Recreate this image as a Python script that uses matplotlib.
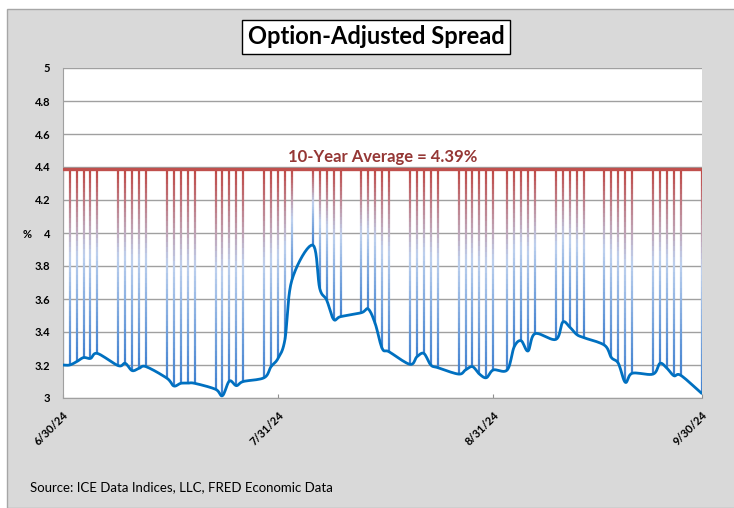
import numpy as np
import pandas as pd
import matplotlib
matplotlib.use("Agg")
import matplotlib.pyplot as plt
import matplotlib.dates as mdates
from matplotlib.collections import LineCollection
from matplotlib.colors import LinearSegmentedColormap
from matplotlib.patches import Rectangle

plt.rcParams["font.family"] = ["Lato", "DejaVu Sans"]

# data
dates = [
    "2024-06-30", "2024-07-01", "2024-07-02", "2024-07-03", "2024-07-04", "2024-07-05",
    "2024-07-08", "2024-07-09", "2024-07-10", "2024-07-11", "2024-07-12",
    "2024-07-15", "2024-07-16", "2024-07-17", "2024-07-18", "2024-07-19",
    "2024-07-22", "2024-07-23", "2024-07-24", "2024-07-25", "2024-07-26",
    "2024-07-29", "2024-07-30", "2024-07-31", "2024-08-01", "2024-08-02",
    "2024-08-05", "2024-08-06", "2024-08-07", "2024-08-08", "2024-08-09",
    "2024-08-12", "2024-08-13", "2024-08-14", "2024-08-15", "2024-08-16",
    "2024-08-19", "2024-08-20", "2024-08-21", "2024-08-22", "2024-08-23",
    "2024-08-26", "2024-08-27", "2024-08-28", "2024-08-29", "2024-08-30", "2024-08-31",
    "2024-09-02", "2024-09-03", "2024-09-04", "2024-09-05", "2024-09-06",
    "2024-09-09", "2024-09-10", "2024-09-11", "2024-09-12", "2024-09-13",
    "2024-09-16", "2024-09-17", "2024-09-18", "2024-09-19", "2024-09-20",
    "2024-09-23", "2024-09-24", "2024-09-25", "2024-09-26", "2024-09-27",
    "2024-09-30",
]
oas = [
    3.20, 3.20, 3.22, 3.245, 3.24, 3.27,
    3.196, 3.21, 3.166, 3.18, 3.19,
    3.12, 3.073, 3.089, 3.09, 3.089,
    3.053, 3.014, 3.103, 3.075, 3.10,
    3.123, 3.19, 3.24, 3.355, 3.715,
    3.927, 3.665, 3.594, 3.477, 3.493,
    3.517, 3.539, 3.45, 3.30, 3.28,
    3.204, 3.25, 3.27, 3.20, 3.184,
    3.145, 3.17, 3.19, 3.145, 3.123, 3.17,
    3.17, 3.31, 3.347, 3.285, 3.39,
    3.355, 3.46, 3.43, 3.385, 3.366,
    3.32, 3.245, 3.21, 3.095, 3.15,
    3.145, 3.21, 3.18, 3.135, 3.137,
    3.028,
]
avg_10y = 4.39
x_ticks = ["2024-06-30", "2024-07-31", "2024-08-31", "2024-09-30"]
x_tick_labels = ["6/30/24", "7/31/24", "8/31/24", "9/30/24"]
y_ticks = [3, 3.2, 3.4, 3.6, 3.8, 4, 4.2, 4.4, 4.6, 4.8, 5]


def smooth(x, y, steps=10):
    # catmull-rom style smoothing, like excel's "smoothed line"
    x = np.asarray(x, float)
    y = np.asarray(y, float)
    px = np.concatenate([[2 * x[0] - x[1]], x, [2 * x[-1] - x[-2]]])
    py = np.concatenate([[2 * y[0] - y[1]], y, [2 * y[-1] - y[-2]]])
    xs, ys = [], []
    t = np.linspace(0, 1, steps, endpoint=False)
    for i in range(1, len(px) - 2):
        p0, p1, p2, p3 = px[i - 1:i + 3]
        q0, q1, q2, q3 = py[i - 1:i + 3]
        m1x, m2x = (p2 - p0) / 6, (p3 - p1) / 6
        m1y, m2y = (q2 - q0) / 6, (q3 - q1) / 6
        b = [(1 - t) ** 3, 3 * t * (1 - t) ** 2, 3 * t ** 2 * (1 - t), t ** 3]
        xs.append(b[0] * p1 + b[1] * (p1 + m1x) + b[2] * (p2 - m2x) + b[3] * p2)
        ys.append(b[0] * q1 + b[1] * (q1 + m1y) + b[2] * (q2 - m2y) + b[3] * q2)
    xs.append([x[-1]])
    ys.append([y[-1]])
    return np.concatenate(xs), np.concatenate(ys)


dt = pd.to_datetime(dates)
xnum = mdates.date2num(dt)

fig = plt.figure(figsize=(7.34, 5.08), dpi=100)
fig.patch.set_facecolor("white")
fig.add_artist(Rectangle((7 / 734, 0), 1, 1 - 9 / 508, transform=fig.transFigure,
                         facecolor="#D9D9D9", edgecolor="#A6A6A6", lw=1, zorder=-10))

ax = fig.add_axes([62.7 / 734, 1 - 398 / 508, (701.7 - 62.7) / 734, 330 / 508])
ax.set_facecolor("white")

# gradient columns from the series up to the average
cmap = LinearSegmentedColormap.from_list(
    "col", [(0, "#3F80CF"), (0.55, "#BFD1EE"), (1, "#BF4744")])
segs, cols = [], []
nseg = 40
for xv, yv in zip(xnum, oas):
    edges = np.linspace(yv, avg_10y, nseg + 1)
    for k in range(nseg):
        segs.append([(xv, edges[k]), (xv, edges[k + 1])])
        cols.append(cmap((k + 0.5) / nseg))
ax.add_collection(LineCollection(segs, colors=cols, linewidths=1.6,
                                 capstyle="butt", zorder=2))

ax.axhline(avg_10y, color="#C0504D", lw=2.4, zorder=3)
sx, sy = smooth(xnum, oas)
ax.plot(sx, sy, color="#0070C0", lw=2.0, zorder=4, solid_capstyle="round")

ax.text(0.5, (avg_10y - 3) / 2 + 0.012, "10-Year Average = 4.39%", transform=ax.transAxes,
        ha="center", va="bottom", fontsize=12, fontweight="bold", color="#953735")

ax.set_ylim(3, 5)
ax.set_xlim(xnum[0], xnum[-1])
ax.set_yticks(y_ticks)
ax.set_yticklabels([f"{v:g}" for v in y_ticks], fontsize=8, fontweight="bold")
ax.yaxis.grid(True, color="#A0A0A0", lw=1)
ax.set_axisbelow(True)
ax.set_xticks(mdates.date2num(pd.to_datetime(x_ticks)))
ax.set_xticklabels(x_tick_labels, rotation=45, ha="right", rotation_mode="anchor",
                   fontsize=8, fontweight="bold")
ax.tick_params(axis="y", length=0, pad=9)
ax.tick_params(axis="x", direction="in", length=3, color="#909090", pad=8)
for s in ["top", "right"]:
    ax.spines[s].set_visible(False)
for s in ["left", "bottom"]:
    ax.spines[s].set_color("#A0A0A0")
ax.set_ylabel("%", rotation=0, fontsize=8, fontweight="bold")
ax.yaxis.set_label_coords(-0.055, 0.48)

fig.text(376 / 734, 1 - 37 / 508, "Option-Adjusted Spread", ha="center", va="center",
         fontsize=17, fontweight="bold",
         bbox=dict(facecolor="white", edgecolor="black", lw=1, pad=4))
fig.text(30 / 734, 1 - 487 / 508, "Source: ICE Data Indices, LLC, FRED Economic Data",
         ha="left", va="center", fontsize=9.5)

fig.savefig("out.png", dpi=100)
